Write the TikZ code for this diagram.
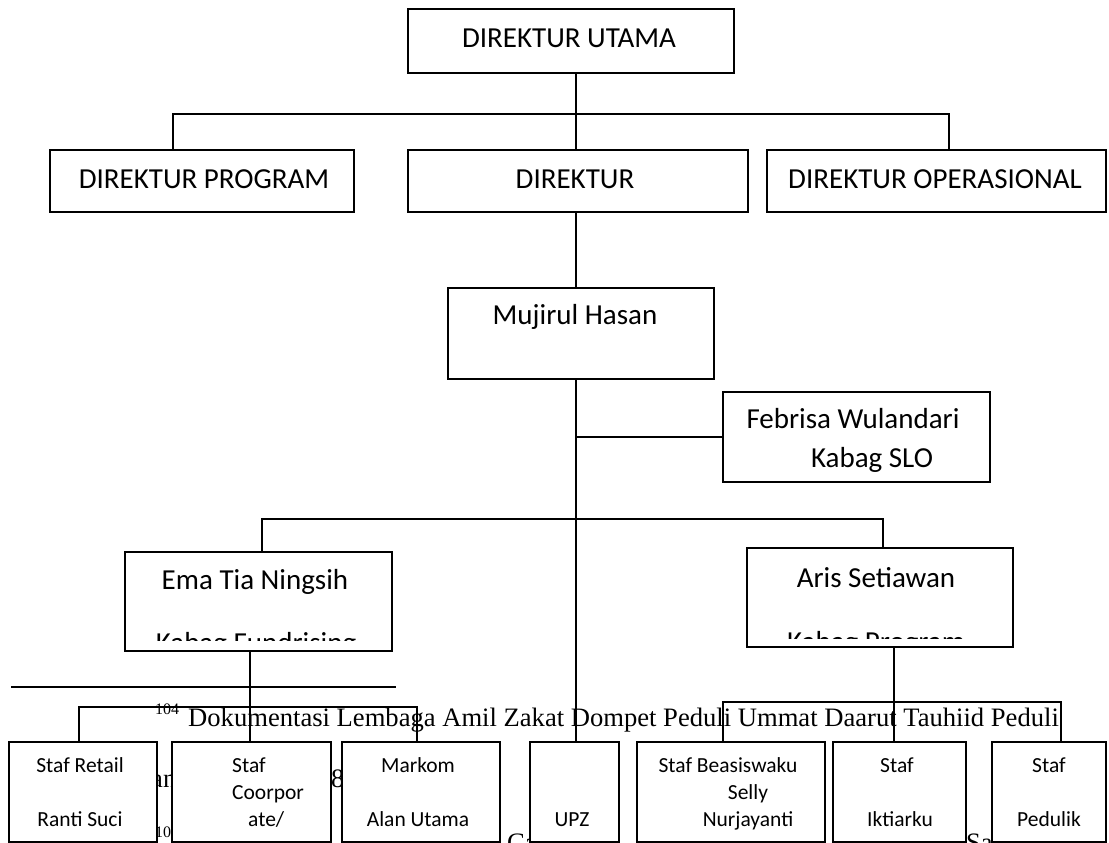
\documentclass[tikz,border=0pt]{standalone}
\usepackage{fontspec}
\setmainfont{Carlito}
\newfontfamily\tnr{Liberation Serif}
\newcommand\orgbox[5]{\node[box, minimum width={(#4-#2)*1pt}, minimum height={(#5-#3)*1pt}] (#1) at ({(#2+#4)/2},{(#3+#5)/2}) {};}
\begin{document}
\begin{tikzpicture}[x=1pt,y=-1pt,
  box/.style={draw=black, line width=1.5pt, fill=white, inner sep=0pt, outer sep=0pt},
  conn/.style={draw=black, line width=1.3pt},
  big/.style={inner sep=0pt, anchor=base, font=\fontsize{29}{33}\selectfont},
  small/.style={inner sep=0pt, anchor=base, font=\fontsize{21.5}{25}\selectfont},
  fn/.style={inner sep=0pt, anchor=base west, font=\tnr\fontsize{26.6}{30}\selectfont},
  fnsup/.style={inner sep=0pt, anchor=base west, font=\tnr\fontsize{16}{18}\selectfont}]
\useasboundingbox (0,0) rectangle (1109,843);

% footnote (behind the chart)
\coordinate (fnA) at (11,687);
\coordinate (fnB) at (396,687);
\draw[line width=2.2pt] (fnA) -- (fnB);
\node[fnsup] (fs1) at (155,714) {104};
\node[fn] (fl1) at (188,726) {Dokumentasi Lembaga Amil Zakat Dompet Peduli Ummat Daarut Tauhiid Peduli};
\node[fn] (fl2a) at (151,787) {an};
\node[fn] (fl2b) at (331,787) {8};
\node[fnsup] (fs2) at (155,837) {10};
\node[fn] (fl3a) at (507,851) {Ca};
\node[fn] (fl3b) at (966,851) {Sa};

% boxes
\orgbox{du}{408}{9}{734}{73}
\orgbox{dp}{50}{150}{354}{212}
\orgbox{dir}{408}{150}{748}{212}
\orgbox{dop}{767}{150}{1106}{212}
\orgbox{muj}{448}{288}{714}{379}
\orgbox{feb}{723}{392}{990}{482}
\orgbox{ema}{125}{552}{392}{651}
\orgbox{aris}{747}{548}{1013}{647}
\orgbox{sr}{9}{742}{157}{842}
\orgbox{sc}{172}{742}{331}{842}
\orgbox{mk}{342}{742}{500}{842}
\orgbox{upz}{530}{742}{619}{842}
\orgbox{sb}{637}{742}{825}{842}
\orgbox{si}{833}{742}{966}{842}
\orgbox{sp}{992}{742}{1106}{842}

% connectors
\coordinate (spine) at (576,0);
\coordinate (tbL) at (173,114);
\coordinate (tbR) at (949,114);
\coordinate (mbL) at (262,519);
\coordinate (mbR) at (883,519);
\coordinate (lbL) at (79,707);
\coordinate (lbR) at (417,707);
\coordinate (emaDown) at (250,0);
\coordinate (rbL) at (723,702);
\coordinate (rbR) at (1061,702);
\coordinate (arisDown) at (894,0);
\draw[conn] (du.south -| spine) -- (dir.north -| spine);
\draw[conn] (dp.north -| tbL) -- (tbL) -- (tbR) -- (dop.north -| tbR);
\draw[conn] (dir.south -| spine) -- (muj.north -| spine);
\draw[conn] (muj.south -| spine) -- (upz.north -| spine);
\draw[conn] (feb.west) -- (feb.west -| spine);
\draw[conn] (ema.north -| mbL) -- (mbL) -- (mbR) -- (aris.north -| mbR);
\draw[conn] (sr.north -| lbL) -- (lbL) -- (lbR) -- (mk.north -| lbR);
\draw[conn] (ema.south -| emaDown) -- (sc.north -| emaDown);
\draw[conn] (sb.north -| rbL) -- (rbL) -- (rbR) -- (sp.north -| rbR);
\draw[conn] (aris.south -| arisDown) -- (si.north -| arisDown);

% texts
\node[big] (tdu) at (569,48) {DIREKTUR UTAMA};
\node[big] (tdp) at (204,188) {DIREKTUR PROGRAM};
\node[big] (tdir) at (575,188) {DIREKTUR};
\node[big] (tdop) at (935,188) {DIREKTUR OPERASIONAL};
\node[big] (tmuj) at (575,324) {Mujirul Hasan};
\node[big] (tfeb1) at (853,428) {Febrisa Wulandari};
\node[big] (tfeb2) at (872,467) {Kabag SLO};
\node[big] (tema) at (255,589) {Ema Tia Ningsih};
\node[big] (taris) at (876,587) {Aris Setiawan};
\begin{scope}
  \clip (127,553) rectangle (390,640);
  \node[big] (tema2) at (256,652) {Kabag Fundrising};
\end{scope}
\begin{scope}
  \clip (749,549) rectangle (1011,638);
  \node[big] (taris2) at (876,651) {Kabag Program};
\end{scope}

\node[small] (tsr1) at (80,772) {Staf Retail};
\node[small] (tsr2) at (80,826) {Ranti Suci};
\node[small, anchor=base west] (tsc1) at (232,772) {Staf};
\node[small, anchor=base west] (tsc2) at (232,799) {Coorpor};
\node[small, anchor=base west] (tsc3) at (248,826) {ate/};
\node[small] (tmk1) at (418,772) {Markom};
\node[small] (tmk2) at (418,826) {Alan Utama};
\node[small] (tupz) at (572,826) {UPZ};
\node[small] (tsb1) at (728,772) {Staf Beasiswaku};
\node[small] (tsb2) at (748,799) {Selly};
\node[small] (tsb3) at (748,826) {Nurjayanti};
\node[small] (tsi1) at (897,772) {Staf};
\node[small] (tsi2) at (900,826) {Iktiarku};
\node[small] (tsp1) at (1049,772) {Staf};
\node[small] (tsp2) at (1049,826) {Pedulik};
\end{tikzpicture}
\end{document}
